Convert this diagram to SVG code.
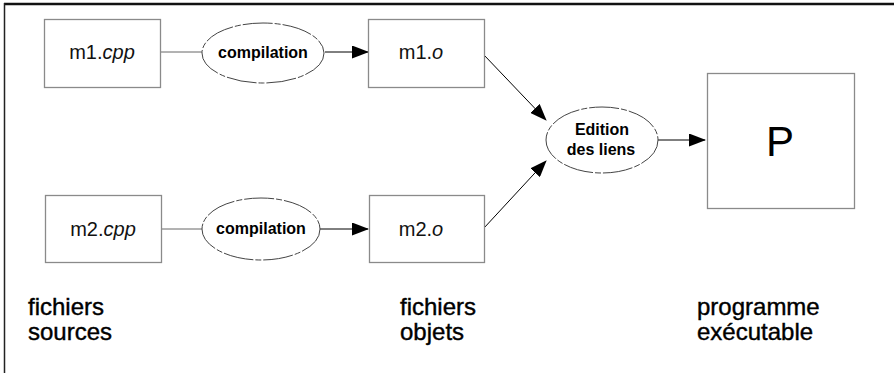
<svg xmlns="http://www.w3.org/2000/svg" width="894" height="373" viewBox="0 0 894 373">
<style>
.box{fill:#fff;stroke:#8a8a8a;stroke-width:1.3}
.ell{fill:#fff;stroke:#444;stroke-width:1;stroke-dasharray:30 2 6 2}
.file{font-family:"Liberation Sans",Arial,sans-serif;font-size:20px;fill:#111}
.op{font-family:"Liberation Sans",Arial,sans-serif;font-size:16px;font-weight:bold;fill:#000}
.lab{font-family:"Liberation Sans",Arial,sans-serif;font-size:24px;fill:#000;stroke:#000;stroke-width:0.4}
.ln{stroke:#000;stroke-width:1;fill:none}
.lg{stroke:#666;stroke-width:1;fill:none}
</style>
<defs>
<marker id="ah" markerWidth="17" markerHeight="13" refX="16" refY="6.5" orient="auto" markerUnits="userSpaceOnUse">
<path d="M0,0 L17,6.5 L0,13 Z" fill="#000"/>
</marker>
</defs>
<rect width="894" height="373" fill="#fff"/>
<g id="frame">
<line x1="4" y1="4" x2="894" y2="4" stroke="#111" stroke-width="2.5"/>
<line x1="4.5" y1="3" x2="4.5" y2="373" stroke="#222" stroke-width="1.5"/>
</g>
<g id="connectors">
<line class="lg" x1="160" y1="52" x2="202" y2="52"/>
<line class="ln" x1="325" y1="52" x2="368" y2="52" marker-end="url(#ah)"/>
<line class="lg" x1="161" y1="229" x2="202" y2="229"/>
<line class="ln" x1="320" y1="229" x2="368" y2="229" marker-end="url(#ah)"/>
<line class="ln" x1="484" y1="55" x2="546" y2="120" marker-end="url(#ah)"/>
<line class="ln" x1="484" y1="228" x2="546" y2="161" marker-end="url(#ah)"/>
<line class="ln" x1="658" y1="140" x2="705" y2="140" marker-end="url(#ah)"/>
</g>
<g id="m1cpp">
<rect class="box" x="44.5" y="19.5" width="116" height="68"/>
<text class="file" x="102" y="59" text-anchor="middle">m1.<tspan font-style="italic">cpp</tspan></text>
</g>
<g id="comp1">
<ellipse class="ell" cx="263" cy="53" rx="61" ry="30"/>
<text class="op" x="263" y="58" text-anchor="middle">compilation</text>
</g>
<g id="m1o">
<rect class="box" x="368.5" y="19.5" width="116" height="68"/>
<text class="file" x="421" y="59" text-anchor="middle">m1.<tspan font-style="italic">o</tspan></text>
</g>
<g id="m2cpp">
<rect class="box" x="45.5" y="195.5" width="116" height="67"/>
<text class="file" x="103" y="236" text-anchor="middle">m2.<tspan font-style="italic">cpp</tspan></text>
</g>
<g id="comp2">
<ellipse class="ell" cx="261" cy="229" rx="59" ry="31"/>
<text class="op" x="261" y="234" text-anchor="middle">compilation</text>
</g>
<g id="m2o">
<rect class="box" x="369.5" y="195.5" width="115" height="67"/>
<text class="file" x="421" y="236" text-anchor="middle">m2.<tspan font-style="italic">o</tspan></text>
</g>
<g id="edition">
<ellipse class="ell" cx="602" cy="140" rx="56" ry="33"/>
<text class="op" x="602" y="135" text-anchor="middle" font-size="17">Edition</text>
<text class="op" x="601" y="155" text-anchor="middle" font-size="17">des liens</text>
</g>
<g id="P">
<rect class="box" x="707.5" y="73.5" width="147" height="135"/>
<text x="780" y="156" text-anchor="middle" font-family="'Liberation Sans',Arial,sans-serif" font-size="42" fill="#000">P</text>
</g>
<g id="labels">
<text class="lab" x="28" y="315">fichiers</text>
<text class="lab" x="28" y="340">sources</text>
<text class="lab" x="400" y="315">fichiers</text>
<text class="lab" x="400" y="340">objets</text>
<text class="lab" x="697" y="315">programme</text>
<text class="lab" x="697" y="340">exécutable</text>
</g>
</svg>
